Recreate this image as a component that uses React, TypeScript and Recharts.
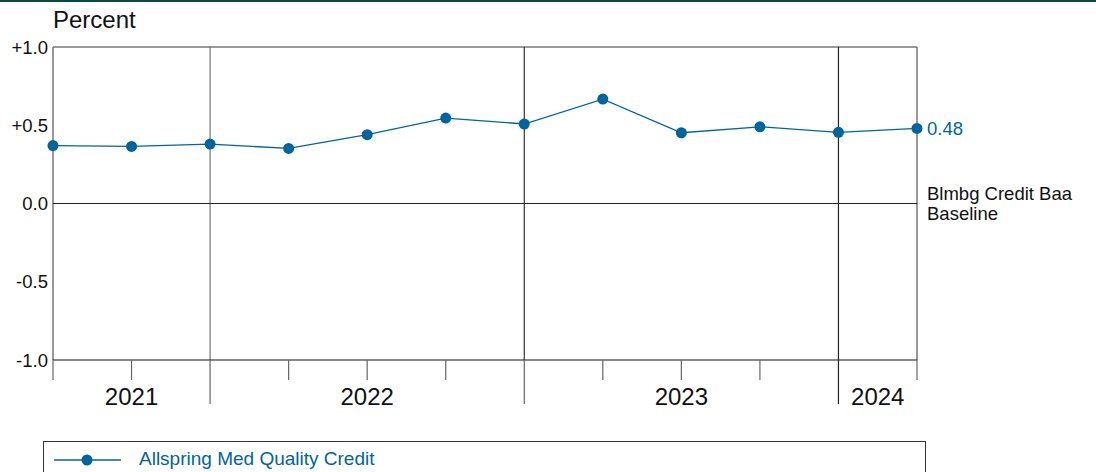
import React from "react";
import { LineChart, Line, XAxis, YAxis, ReferenceLine, LabelList } from "recharts";

const quarters = ["Q4 2020", "Q1 2021", "Q2 2021", "Q3 2021", "Q4 2021", "Q1 2022", "Q2 2022", "Q3 2022", "Q4 2022", "Q1 2023", "Q2 2023", "Q3 2023"];
const excessReturn = [0.37, 0.365, 0.38, 0.352, 0.44, 0.546, 0.508, 0.667, 0.452, 0.49, 0.455, 0.48];
const yTicks = [-1, -0.5, 0, 0.5, 1];
const yTickLabels = ["-1.0", "-0.5", "0.0", "+0.5", "+1.0"];
const yearBoundaries = [2, 6, 10];
const yearLabelPositions = [1, 4, 8, 10.5];
const yearLabels = ["2021", "2022", "2023", "2024"];
const seriesName = "Allspring Med Quality Credit";
const baselineName = ["Blmbg Credit Baa", "Baseline"];

const data = quarters.map((q, i) => ({ idx: i, quarter: q, value: excessReturn[i] }));
const xTicks = quarters.map((_, i) => i);

const FONT = "'Liberation Sans', Arial, sans-serif";
const BLUE = "#00649f";

const QuarterTick = (props: any) => {
  const { x, y, payload } = props;
  const v = payload.value;
  const isBoundary = yearBoundaries.includes(v);
  const len = isBoundary ? 44 : 20;
  const color = v === 10 ? "#222" : "#666";
  return <line x1={x} x2={x} y1={y} y2={y + len} stroke={color} strokeWidth={1.2} />;
};

const YearTick = (props: any) => {
  const { x, y, payload } = props;
  const i = yearLabelPositions.indexOf(payload.value);
  return (
    <text x={x} y={y - 5} textAnchor="middle" fontSize={24} fill="#111" fontFamily={FONT}>
      {yearLabels[i]}
    </text>
  );
};

const YTickLabel = (props: any) => {
  const { x, y, payload } = props;
  const i = yTicks.indexOf(payload.value);
  return (
    <text x={x} y={y} dy="0.355em" textAnchor="end" fontSize={18.5} fill="#111" fontFamily={FONT}>
      {yTickLabels[i]}
    </text>
  );
};

const BaselineLabel = (props: any) => {
  const { viewBox } = props;
  const x = viewBox.x + viewBox.width + 10;
  const y = viewBox.y;
  return (
    <g>
      <text x={x} y={y - 4} fontSize={18.5} fill="#111" fontFamily={FONT}>{baselineName[0]}</text>
      <text x={x} y={y + 16} fontSize={18.5} fill="#111" fontFamily={FONT}>{baselineName[1]}</text>
    </g>
  );
};

const EndLabel = (props: any) => {
  const { x, y, index, value } = props;
  if (index !== excessReturn.length - 1) return null;
  return (
    <text x={x + 10} y={y} dy="0.355em" fontSize={18.5} fill={BLUE} fontFamily={FONT}>
      {Number(value).toFixed(2)}
    </text>
  );
};

export default function App() {
  return (
    <div style={{ position: "absolute", left: 0, top: 0, width: 1096, height: 472, overflow: "hidden", background: "#fff", fontFamily: FONT }}>
      <div style={{ position: "absolute", left: 0, top: 0, width: 1096, height: 2, background: "#0b4a3e" }} />
      <div style={{ position: "absolute", left: 53, top: 6, fontSize: 24, color: "#111", lineHeight: "28px" }}>Percent</div>
      <LineChart width={1096} height={472} data={data} margin={{ top: 47, right: 179, bottom: 52, left: 0 }}>
        <XAxis
          dataKey="idx"
          type="number"
          domain={[0, 11]}
          ticks={xTicks}
          interval={0}
          height={50}
          tickSize={0}
          tickMargin={0}
          axisLine={{ stroke: "#111", strokeWidth: 1.2 }}
          tickLine={false}
          tick={<QuarterTick />}
        />
        <XAxis
          xAxisId="yr"
          dataKey="idx"
          type="number"
          domain={[0, 11]}
          ticks={yearLabelPositions}
          interval={0}
          height={10}
          tickSize={0}
          tickMargin={0}
          axisLine={false}
          tickLine={false}
          tick={<YearTick />}
        />
        <YAxis
          type="number"
          domain={[-1, 1]}
          ticks={yTicks}
          interval={0}
          width={53}
          tickSize={0}
          tickMargin={5}
          axisLine={false}
          tickLine={false}
          tick={<YTickLabel />}
        />
        <ReferenceLine y={1} stroke="#777" strokeWidth={1.5} />
        <ReferenceLine x={0} stroke="#777" strokeWidth={1.5} />
        <ReferenceLine x={11} stroke="#777" strokeWidth={1.5} />
        <ReferenceLine x={2} stroke="#777" strokeWidth={1.2} />
        <ReferenceLine x={6} stroke="#333" strokeWidth={1.2} />
        <ReferenceLine x={10} stroke="#222" strokeWidth={1.2} />
        <ReferenceLine y={0} stroke="#222" strokeWidth={1.2} label={<BaselineLabel />} />
        <Line
          type="linear"
          dataKey="value"
          stroke={BLUE}
          strokeWidth={1.3}
          dot={{ r: 5.5, fill: BLUE, stroke: BLUE, strokeWidth: 0 }}
          activeDot={false}
          isAnimationActive={false}
        >
          <LabelList dataKey="value" content={<EndLabel />} />
        </Line>
      </LineChart>
      <div style={{ position: "absolute", left: 43, top: 441, width: 883, height: 40, border: "1px solid #333", boxSizing: "border-box" }}>
        <svg width={80} height={30} style={{ position: "absolute", left: 9, top: 4 }}>
          <line x1={1} x2={68} y1={14} y2={14} stroke={BLUE} strokeWidth={1.3} />
          <circle cx={34} cy={14} r={5.5} fill={BLUE} />
        </svg>
        <div style={{ position: "absolute", left: 95, top: 6, fontSize: 19, color: BLUE, lineHeight: "22px", whiteSpace: "nowrap" }}>{seriesName}</div>
      </div>
    </div>
  );
}
